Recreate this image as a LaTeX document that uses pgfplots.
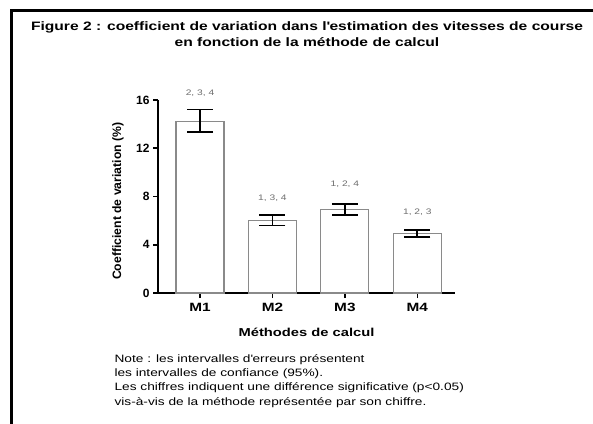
\documentclass[border=0pt]{standalone}
\usepackage{fontspec}
\setmainfont{Liberation Sans}[FakeStretch=1.28]
\newfontfamily\plainfont{Liberation Sans}
\usepackage{pgfplots}
\usepackage{pgfplotstable}
\pgfplotsset{compat=1.18}
\definecolor{bargray}{HTML}{8A8A8A}
\definecolor{anngray}{HTML}{6E6E6E}
\pgfplotstableread{
x y ep em
0 14.2 1.0 0.85
1 6.0 0.45 0.40
2 6.9 0.50 0.45
3 4.95 0.28 0.32
}\cvdata
\begin{document}
\begin{tikzpicture}[x=1pt,y=1pt]
\useasboundingbox (0,0) rectangle (593,423);
\clip (0,0) rectangle (593,423);
\draw[line width=3pt] (11.5,-5) -- (11.5,412) -- (600,412);
\node[font=\bfseries\fontsize{12.2}{16}\selectfont, align=center] at (307,389) {Figure 2 : coefficient de variation dans l\textquotesingle estimation des vitesses de course\\en fonction de la méthode de calcul};
\begin{axis}[
  at={(158pt,130pt)}, anchor=south west,
  scale only axis, width=297pt, height=193pt,
  xmin=-0.58, xmax=3.52, ymin=0, ymax=16,
  axis lines*=left,
  axis line style={line width=1.6pt},
  ytick={0,4,8,12,16}, xtick={0,1,2,3},
  xticklabels={M1,M2,M3,M4},
  tick align=outside, major tick length=5pt,
  tick style={line width=1.6pt, black},
  /pgf/number format/assume math mode=true,
  xticklabel style={font=\bfseries\fontsize{12}{14}\selectfont, yshift=-1.5pt},
  yticklabel style={font=\plainfont\bfseries\fontsize{12}{14}\selectfont},
  xlabel={Méthodes de calcul},
  ylabel={Coefficient de variation (\%)},
  xlabel style={font=\bfseries\fontsize{11.5}{13}\selectfont, at={(axis description cs:0.5,-0.205)}, anchor=center},
  ylabel style={font=\plainfont\bfseries\fontsize{12.2}{14}\selectfont, at={(axis description cs:-0.135,0.475)}, anchor=center},
  clip=false,
]
\addplot[ybar, bar width=48pt, draw=bargray, fill=white, line width=1.1pt,
  error bars/.cd, y dir=both, y explicit,
  error bar style={line width=1.7pt, black},
  error mark options={rotate=90, mark size=13pt, line width=1.7pt, black}]
  table[x=x, y=y, y error plus=ep, y error minus=em] {\cvdata};
\begin{scope}[every node/.style={font=\fontsize{8}{9}\selectfont, text=anngray}]
\node at (axis cs:0,16.6) {2, 3, 4};
\node at (axis cs:1,7.88) {1, 3, 4};
\node at (axis cs:2,9.04) {1, 2, 4};
\node at (axis cs:3,6.66) {1, 2, 3};
\end{scope}
\end{axis}
\node[anchor=north west, align=left, font=\fontsize{10.7}{14.2}\selectfont] at (111,72) {Note : les intervalles d\textquotesingle erreurs présentent\\les intervalles de confiance (95\%).\\Les chiffres indiquent une différence significative (p<0.05)\\vis-à-vis de la méthode représentée par son chiffre.};
\end{tikzpicture}
\end{document}
